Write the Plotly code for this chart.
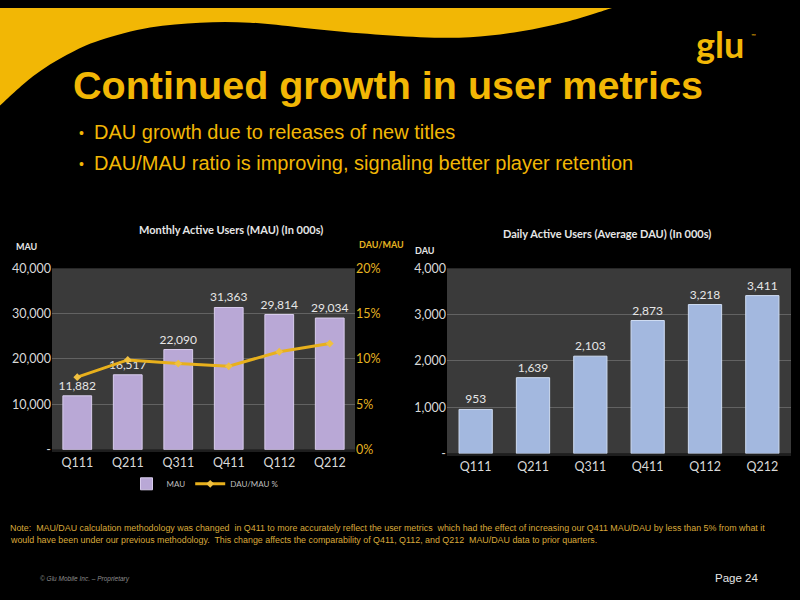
import plotly.graph_objects as go

# ---------------- data ----------------
quarters = ["Q111", "Q211", "Q311", "Q411", "Q112", "Q212"]
mau = [11882, 16517, 22090, 31363, 29814, 29034]
dau = [953, 1639, 2103, 2873, 3218, 3411]
dau_mau_pct = [8.0, 9.9, 9.5, 9.2, 10.8, 11.7]

mau_ticks = [0, 10000, 20000, 30000, 40000]
mau_ticktext = ["-", "10,000", "20,000", "30,000", "40,000"]
pct_ticks = [0, 5, 10, 15, 20]
pct_ticktext = ["0%", "5%", "10%", "15%", "20%"]
dau_ticks = [0, 1000, 2000, 3000, 4000]
dau_ticktext = ["-", "1,000", "2,000", "3,000", "4,000"]

title_text = "Continued growth in user metrics"
bullets = ["DAU growth due to releases of new titles",
           "DAU/MAU ratio is improving, signaling better player retention"]
note_lines = ["Note:  MAU/DAU calculation methodology was changed  in Q411 to more accurately reflect the user metrics  which had the effect of increasing our Q411 MAU/DAU by less than 5% from what it",
              "would have been under our previous methodology.  This change affects the comparability of Q411, Q112, and Q212  MAU/DAU data to prior quarters."]

W, H = 800, 600
GOLD = "#f2b705"
def px(x): return x / W
def py(y): return 1 - y / H

fig = go.Figure()

fig.add_trace(go.Bar(
    x=quarters, y=mau, name="MAU", width=0.57,
    marker=dict(color="#b9a8d6", line=dict(color="#d8ccec", width=1)),
    text=[f"{v:,}" for v in mau], textposition="outside", constraintext="none",
    textfont=dict(color="#e6e6e6", size=12, family="Lato"),
    cliponaxis=False, xaxis="x", yaxis="y"))

fig.add_trace(go.Scatter(
    x=quarters, y=dau_mau_pct, name="DAU/MAU %", mode="lines+markers",
    line=dict(color="#e8b01c", width=3),
    marker=dict(symbol="diamond", size=6, color="#f0c040"),
    xaxis="x", yaxis="y2"))

fig.add_trace(go.Bar(
    x=quarters, y=dau, name="DAU", width=0.58, showlegend=False,
    marker=dict(color="#a3b8df", line=dict(color="#cfdcf2", width=1)),
    text=[f"{v:,}" for v in dau], textposition="outside", constraintext="none",
    textfont=dict(color="#e6e6e6", size=12, family="Lato"),
    cliponaxis=False, xaxis="x3", yaxis="y3"))

axis_font = dict(color="#d9d9d9", size=12.5, family="Lato")

# header yellow curve (decorative shape)
pts = [(0, 100), (33, 70), (67, 48), (100, 33), (150, 20), (200, 15), (250, 15),
       (300, 20), (360, 26), (420, 30), (470, 30), (520, 24), (567, 14), (612, 0)]
def catmull(points):
    d = f"M {px(points[0][0])},{py(points[0][1])} "
    for i in range(len(points) - 1):
        p0 = points[i - 1] if i > 0 else points[i]
        p1 = points[i]
        p2 = points[i + 1]
        p3 = points[i + 2] if i + 2 < len(points) else points[i + 1]
        c1 = (p1[0] + (p2[0] - p0[0]) / 6, p1[1] + (p2[1] - p0[1]) / 6)
        c2 = (p2[0] - (p3[0] - p1[0]) / 6, p2[1] - (p3[1] - p1[1]) / 6)
        d += f"C {px(c1[0])},{py(c1[1])} {px(c2[0])},{py(c2[1])} {px(p2[0])},{py(p2[1])} "
    return d
path = catmull(pts) + f"L {px(0)},{py(0)} Z"

shapes = [dict(type="path", path=path, xref="paper", yref="paper",
               fillcolor=GOLD, line=dict(width=0), layer="below")]

ann = []
ann.append(dict(text=f"<b>{title_text}</b>", x=px(71), y=py(79), xanchor="left", yanchor="middle",
                font=dict(family="Liberation Sans", size=39.5, color=GOLD)))
for i, b in enumerate(bullets):
    yy = 127 + i * 32
    ann.append(dict(text="•", x=px(77), y=py(yy + 1), xanchor="left", yanchor="middle",
                    font=dict(family="Liberation Sans", size=14, color=GOLD)))
    ann.append(dict(text=b, x=px(92), y=py(yy), xanchor="left", yanchor="middle",
                    font=dict(family="Liberation Sans", size=20, color=GOLD)))
ann.append(dict(text="<b>glu</b>", x=px(720), y=py(37), xanchor="center", yanchor="middle",
                font=dict(family="Lato", size=36, color=GOLD)))
ann.append(dict(text="™", x=px(749), y=py(28), xanchor="left", yanchor="middle",
                font=dict(family="Lato", size=6, color=GOLD)))
ann.append(dict(text="<b>Monthly Active Users (MAU) (In 000s)</b>", x=px(231), y=py(227),
                xanchor="center", yanchor="middle", font=dict(family="Lato", size=11, color="#e6e6e6")))
ann.append(dict(text="<b>Daily Active Users (Average DAU) (In 000s)</b>", x=px(607), y=py(231),
                xanchor="center", yanchor="middle", font=dict(family="Lato", size=11, color="#e6e6e6")))
ann.append(dict(text="<b>MAU</b>", x=px(14), y=py(245), xanchor="left", yanchor="middle",
                font=dict(family="Lato", size=9, color="#e6e6e6")))
ann.append(dict(text="<b>DAU/MAU</b>", x=px(357), y=py(243), xanchor="left", yanchor="middle",
                font=dict(family="Lato", size=9, color="#e6b422")))
ann.append(dict(text="<b>DAU</b>", x=px(413), y=py(249), xanchor="left", yanchor="middle",
                font=dict(family="Lato", size=9, color="#e6e6e6")))
for i, ln in enumerate(note_lines):
    ann.append(dict(text=ln, x=px(8), y=py(533 + i * 13), xanchor="left", yanchor="middle",
                    font=dict(family="Liberation Sans", size=8.9, color="#d9a93a")))
ann.append(dict(text="<i>© Glu Mobile Inc. – Proprietary</i>", x=px(38), y=py(586), xanchor="left",
                yanchor="middle", font=dict(family="Liberation Sans", size=6.5, color="#8c8c8c")))
ann.append(dict(text="Page 24", x=px(760), y=py(585), xanchor="right", yanchor="middle",
                font=dict(family="Liberation Sans", size=11.5, color="#e6e6e6")))
for a in ann:
    a.update(xref="paper", yref="paper", showarrow=False)

fig.update_layout(
    width=W, height=H, margin=dict(l=0, r=0, t=0, b=0),
    paper_bgcolor="#000000", plot_bgcolor="#3a3a3a",
    shapes=shapes, annotations=ann, hovermode=False,
    xaxis=dict(domain=[px(52), px(355)], tickfont=axis_font, showgrid=False,
               showline=True, linecolor="#1e1e1e", linewidth=2, ticks=""),
    yaxis=dict(domain=[py(453), py(267)], range=[0, 40000], tickvals=mau_ticks, ticktext=mau_ticktext,
               tickfont=axis_font, gridcolor="#626262", gridwidth=1, zeroline=False, ticks=""),
    yaxis2=dict(overlaying="y", side="right", anchor="x", range=[0, 20], tickvals=pct_ticks,
                ticktext=pct_ticktext, tickfont=dict(color="#e6b422", size=12.5, family="Lato"),
                showgrid=False, zeroline=False, ticks=""),
    xaxis3=dict(domain=[px(447), px(791)], anchor="y3", tickfont=axis_font, showgrid=False,
                showline=True, linecolor="#1e1e1e", linewidth=2, ticks=""),
    yaxis3=dict(domain=[py(457), py(267)], anchor="x3", range=[0, 4000], tickvals=dau_ticks,
                ticktext=dau_ticktext, tickfont=axis_font, gridcolor="#626262", zeroline=False, ticks=""),
    legend=dict(orientation="h", x=px(205), y=py(488), xanchor="center", yanchor="middle",
                font=dict(color="#bfbfbf", size=8, family="Lato"), bgcolor="rgba(0,0,0,0)"),
    showlegend=True,
)

post = ("document.documentElement.style.margin='0';document.body.style.margin='0';"
        "document.documentElement.style.padding='0';document.body.style.padding='0';"
        "document.documentElement.style.background='linear-gradient(to right,#f2b705 0,#f2b705 600px,#000 600px)';")
fig.write_html("out.html", config={"displayModeBar": False}, post_script=post)
